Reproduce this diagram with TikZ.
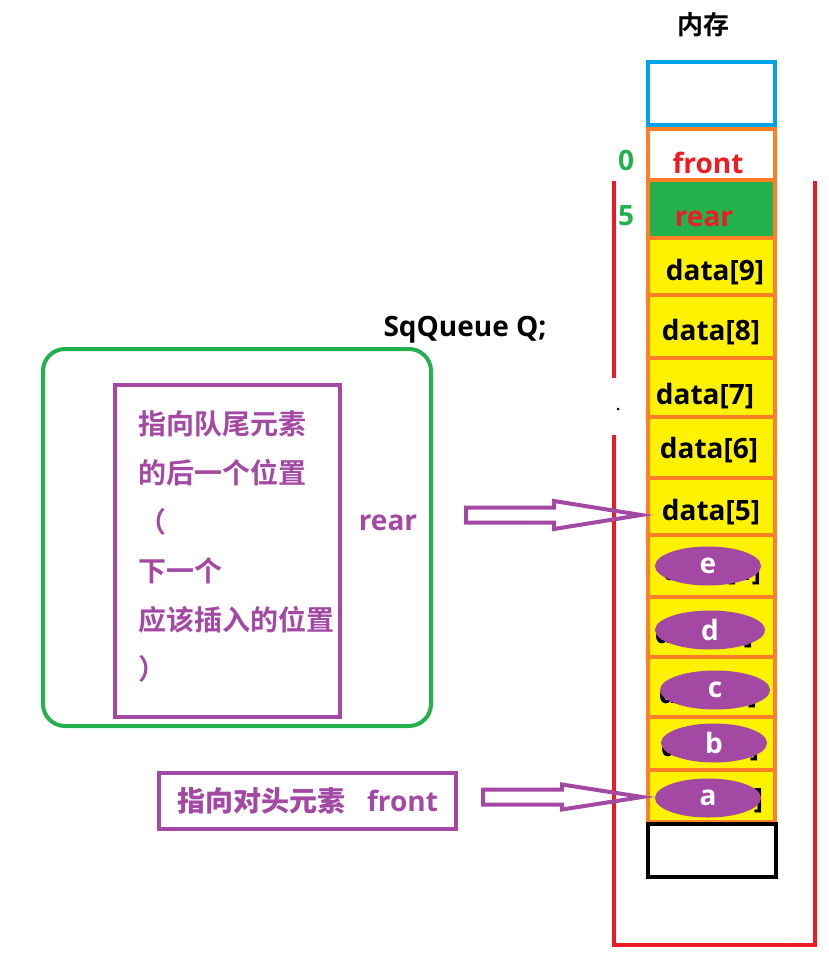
\documentclass[tikz,border=0pt]{standalone}
\usepackage{fontspec}
\setmainfont{Open Sans}
\newfontfamily\cjk{Noto Sans CJK SC Bold}
\usetikzlibrary{shapes.geometric,calc}

\definecolor{qpurple}{RGB}{163,73,164}
\definecolor{qgreen}{RGB}{34,177,76}
\definecolor{qred}{RGB}{237,28,36}
\definecolor{qorange}{RGB}{255,127,39}
\definecolor{qyellow}{RGB}{255,242,0}
\definecolor{qblue}{RGB}{0,162,232}

\tikzset{
  cellbox/.style={draw=qorange, line width=4pt, fill=qyellow, minimum width=127pt, inner sep=0pt},
  celltxt/.style={font=\bfseries\fontsize{28}{30}\selectfont, inner sep=0pt},
  elem/.style={ellipse, fill=qpurple, text=white, minimum width=106pt, minimum height=39pt, inner sep=0pt, font=\bfseries\fontsize{28}{30}\selectfont},
  ptxt/.style={text=qpurple, font=\cjk\fontsize{28}{30}\selectfont, inner sep=0pt, text height=24pt, text depth=4pt},
  fatarr/.style={draw=qpurple, line width=4pt, line join=miter},
}

% hollow arrow: tail, tip, head length, head half width
\newcommand{\fatarrow}[4]{%
  \draw[fatarr] ($(#1)+(0,-7.5)$) -- ($(#2)+(-#3,-7.5)$) -- ($(#2)+(-#3,-#4)$) -- (#2)
    -- ($(#2)+(-#3,#4)$) -- ($(#2)+(-#3,7.5)$) -- ($(#1)+(0,7.5)$) -- cycle;}

\begin{document}
\begin{tikzpicture}[x=1pt, y=-1pt]
  \useasboundingbox (0,0) rectangle (829,955);

  % memory column
  \node[font=\cjk\fontsize{26}{28}\selectfont] (mem) at (703,25) {内存};
  \draw[qred, line width=4pt] (614,181) -- (614,378);
  \draw[qred, line width=4pt] (614,435) -- (614,945) -- (815,945) -- (815,181);
  \fill (618,409) circle (1.5);

  \node[draw=qblue, line width=4pt, minimum width=127pt, minimum height=63pt] (top) at (711.5,93.5) {};
  \node[draw=qorange, line width=4pt, minimum width=127pt, minimum height=51pt, inner sep=0pt] (qfront) at (711.5,154.5) {};
  \node[cellbox, fill=qgreen, minimum height=58pt] (qrear) at (711.5,209) {};
  \node[celltxt, text=qred] (tfront) at (708,163) {front};
  \node[celltxt, text=qred] (trear) at (704,219) {rear};
  \node[celltxt, text=qgreen] (idx0) at (626,160) {0};
  \node[celltxt, text=qgreen] (idx5) at (626,216) {5};

  \foreach \i/\t/\b in {9/238/295, 8/295/358, 7/358/417, 6/417/478, 5/478/535,
                        4/535/597, 3/597/657, 2/657/717, 1/717/770, 0/770/822}
    \node[cellbox, minimum height={\b-\t}] (d\i) at (711.5,{(\t+\b)/2}) {};
  \node[draw=black, line width=4pt, minimum width=128pt, minimum height=53pt] (free) at (712,850.5) {};

  \foreach \i/\x/\y in {9/715/272, 8/711/332, 7/705/396, 6/709/450, 5/711/512,
                        4/712/572, 3/704/635, 2/708/695, 1/710/748, 0/714/800}
    \node[celltxt] (t\i) at (\x,\y) {data[\i]};

  \node[elem] (ee) at (708,566) {e};
  \node[elem, minimum width=110pt] (ed) at (710,630) {d};
  \node[elem, minimum width=110pt] (ec) at (715,690) {c};
  \node[elem] (eb) at (714,743) {b};
  \node[elem] (ea) at (708,798) {a};

  % explanations
  \node[celltxt] (sq) at (465,330) {SqQueue Q;};
  \draw[qgreen, line width=4pt, rounded corners=22pt] (43,349) rectangle (431,726);
  \node[draw=qpurple, line width=4pt, minimum width=225pt, minimum height=332pt] (rearnote) at (227.5,551) {};
  \foreach \s [count=\k] in {指向队尾元素, 的后一个位置, （, 下一个, 应该插入的位置, ）}
    \node[ptxt, anchor=west] (rl\k) at (138,{424+49*(\k-1)}) {\s};
  \node[celltxt, text=qpurple] (rearlbl) at (388,523) {rear};

  \node[draw=qpurple, line width=4pt, minimum width=297pt, minimum height=56pt, text=qpurple,
        font=\bfseries\fontsize{28}{30}\selectfont] (frontnote) at (307.5,801)
        {{\cjk 指向对头元素}\hspace{22pt}front};

  \coordinate (rtail) at (466,515);
  \coordinate (rtip) at (641,515);
  \coordinate (ftail) at (483,797);
  \coordinate (ftip) at (642,797);
  \fatarrow{rtail}{rtip}{87}{14}
  \fatarrow{ftail}{ftip}{80}{12.5}
\end{tikzpicture}
\end{document}
